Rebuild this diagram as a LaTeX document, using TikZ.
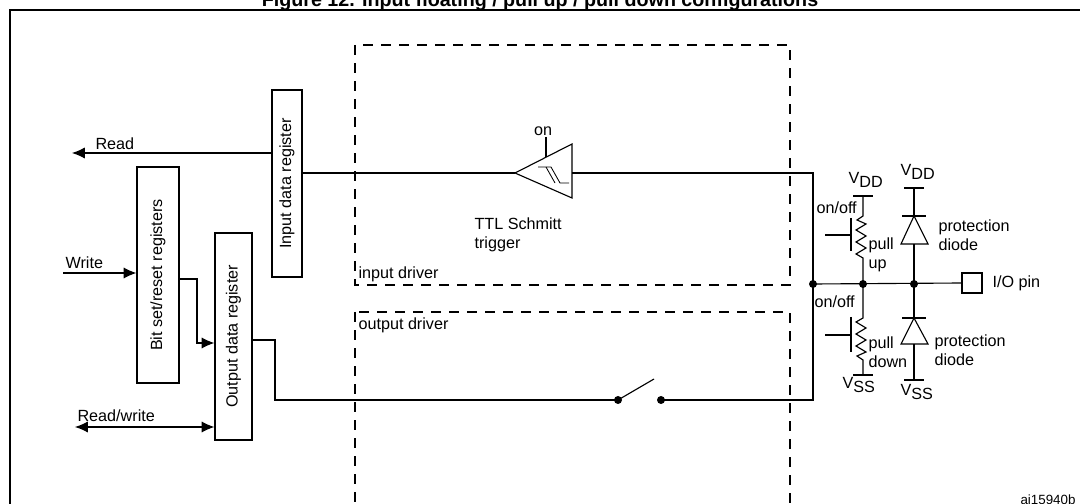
\documentclass[tikz,border=0pt]{standalone}
\usepackage{fontspec}
\setmainfont{Liberation Sans}
\usetikzlibrary{arrows.meta}
\tikzset{
  reg/.style={draw, rotate=90, inner sep=0pt},
  lbl/.style={inner sep=0pt, anchor=west, align=left},
  drv/.style={dash pattern=on 0.25cm off 0.2cm},
  dot/.style={circle, fill, inner sep=0pt, minimum size=0.2cm},
  tip/.style={-{Latex[length=0.32cm,width=0.28cm]}},
}
\newcommand{\sub}[1]{\raisebox{-0.45ex}{#1}}
\begin{document}
\begin{tikzpicture}[x=0.025cm, y=-0.025cm, line width=0.8pt, font=\fontsize{11.5}{13.5}\selectfont]
    \useasboundingbox (0,0) rectangle (1080,504);
    \node[font=\bfseries\fontsize{14}{16}\selectfont, anchor=base] (title) at (540,7) {Figure 12. Input floating / pull up / pull down configurations};
    \draw[line width=1.1pt] (10,10) rectangle (1095,520);
    % driver boxes
    \draw[drv] (355,45) rectangle (790,285);
    \draw[drv] (355,312) rectangle (790,505);
    \node[lbl] (indrv) at (358,274) {input driver};
    \node[lbl] (outdrv) at (358,325) {output driver};
    % registers
    \node[reg, minimum width=4.675cm, minimum height=0.75cm] (inreg) at (287,183.5) {Input data register};
    \node[reg, minimum width=5.4cm, minimum height=1.05cm] (bsr) at (158,275) {Bit set/reset registers};
    \node[reg, minimum width=5.175cm, minimum height=0.925cm] (outreg) at (233.5,336.5) {Output data register};
    \coordinate (readend) at (72,153);
    \coordinate (writeend) at (63,273);
    \coordinate (rwend) at (75,427);
    \draw[tip] (inreg.north |- readend) -- (readend);
    \node[lbl, anchor=south west] (read) at (95,150) {Read};
    \draw[tip] (writeend) -- (bsr.north |- writeend);
    \node[lbl, anchor=south west] (write) at (65,269) {Write};
    \draw[tip] (bsr.south |- 0,279) -- (197,279) |- (outreg.north |- 0,343);
    \draw[{Latex[length=0.32cm,width=0.28cm]}-{Latex[length=0.32cm,width=0.28cm]}] (rwend) -- (outreg.north |- rwend);
    \node[lbl, anchor=south west] (rw) at (77,422) {Read/write};
    % Schmitt trigger
    \coordinate (sttip) at (515,173);
    \coordinate (stout) at (572,173);
    \draw (sttip) -- (572,144) -- (572,198) -- cycle;
    \draw (546,157) -- (546,137);
    \node[anchor=south, inner sep=1pt] (on) at (543,138) {on};
    \draw[line width=0.6pt] (538,167) -- (551,167) -- (560,183) -- (569,183);
    \draw[line width=0.6pt] (546,167) -- (555,183);
    \node[lbl] (ttl) at (474,235) {TTL Schmitt\\trigger};
    % bus
    \coordinate (j1) at (813,284);
    \coordinate (j2) at (863,284);
    \coordinate (j3) at (914,284);
    \draw (inreg.south |- sttip) -- (sttip);
    \draw (stout) -- (813,173) -- (j1);
    \coordinate (sw1) at (618,400);
    \coordinate (sw2) at (661,400);
    \draw (outreg.south |- 0,340) -- (275,340) |- (sw1);
    \draw (sw1) -- (654,379);
    \draw (sw2) -- (813,400) -- (j1);
    \node[draw, minimum size=0.5cm, inner sep=0pt] (pin) at (972,283) {};
    \node[lbl] (piname) at (992,283) {I/O pin};
    \draw (j1) -- (pin.west);
    \foreach \p in {j1,j2,j3,sw1,sw2} \node[dot] at (\p) {};
    % pull up / pull down
    \draw (j2) -- (863,258) -- (856,254) -- (866,248) -- (856,242) -- (866,236) -- (856,230) -- (866,224) -- (857,220) -- (863,216) -- (863,196);
    \draw (853,196) -- (873,196);
    \draw (851,218) -- (851,251);
    \draw (825,235) -- (851,235);
    \draw (j2) -- (863,318) -- (856,322) -- (866,328) -- (856,334) -- (866,340) -- (856,346) -- (866,352) -- (857,356) -- (863,360) -- (863,375);
    \draw (853,375) -- (873,375);
    \draw (851,317) -- (851,352);
    \draw (825,335) -- (851,335);
    \node[lbl] (vddpu) at (848,180) {V\sub{DD}};
    \node[lbl] (onoffpu) at (816,208) {on/off};
    \node[lbl] (pullup) at (868,255) {pull\\up};
    \node[lbl] (onoffpd) at (814,302) {on/off};
    \node[lbl] (pulldn) at (868,352) {pull\\down};
    \node[lbl] (vsspd) at (842,385) {V\sub{SS}};
    % protection diodes
    \draw (904,188) -- (924,188);
    \draw (914,188) -- (914,216);
    \draw (902,216) -- (926,216);
    \draw (914,216) -- (901,244) -- (928,244) -- cycle;
    \draw (914,244) -- (j3);
    \draw (j3) -- (914,318);
    \draw (902,318) -- (926,318);
    \draw (914,318) -- (901,344) -- (928,344) -- cycle;
    \draw (914,344) -- (914,380);
    \draw (904,380) -- (924,380);
    \node[lbl] (vdddi) at (900,172) {V\sub{DD}};
    \node[lbl] (vssdi) at (900,392) {V\sub{SS}};
    \node[lbl] (protup) at (938,235) {protection\\diode};
    \node[lbl] (protdn) at (934,350) {protection\\diode};
    \node[lbl, font=\fontsize{9.5}{10}\selectfont] (ref) at (1020,500) {ai15940b};
\end{tikzpicture}
\end{document}
